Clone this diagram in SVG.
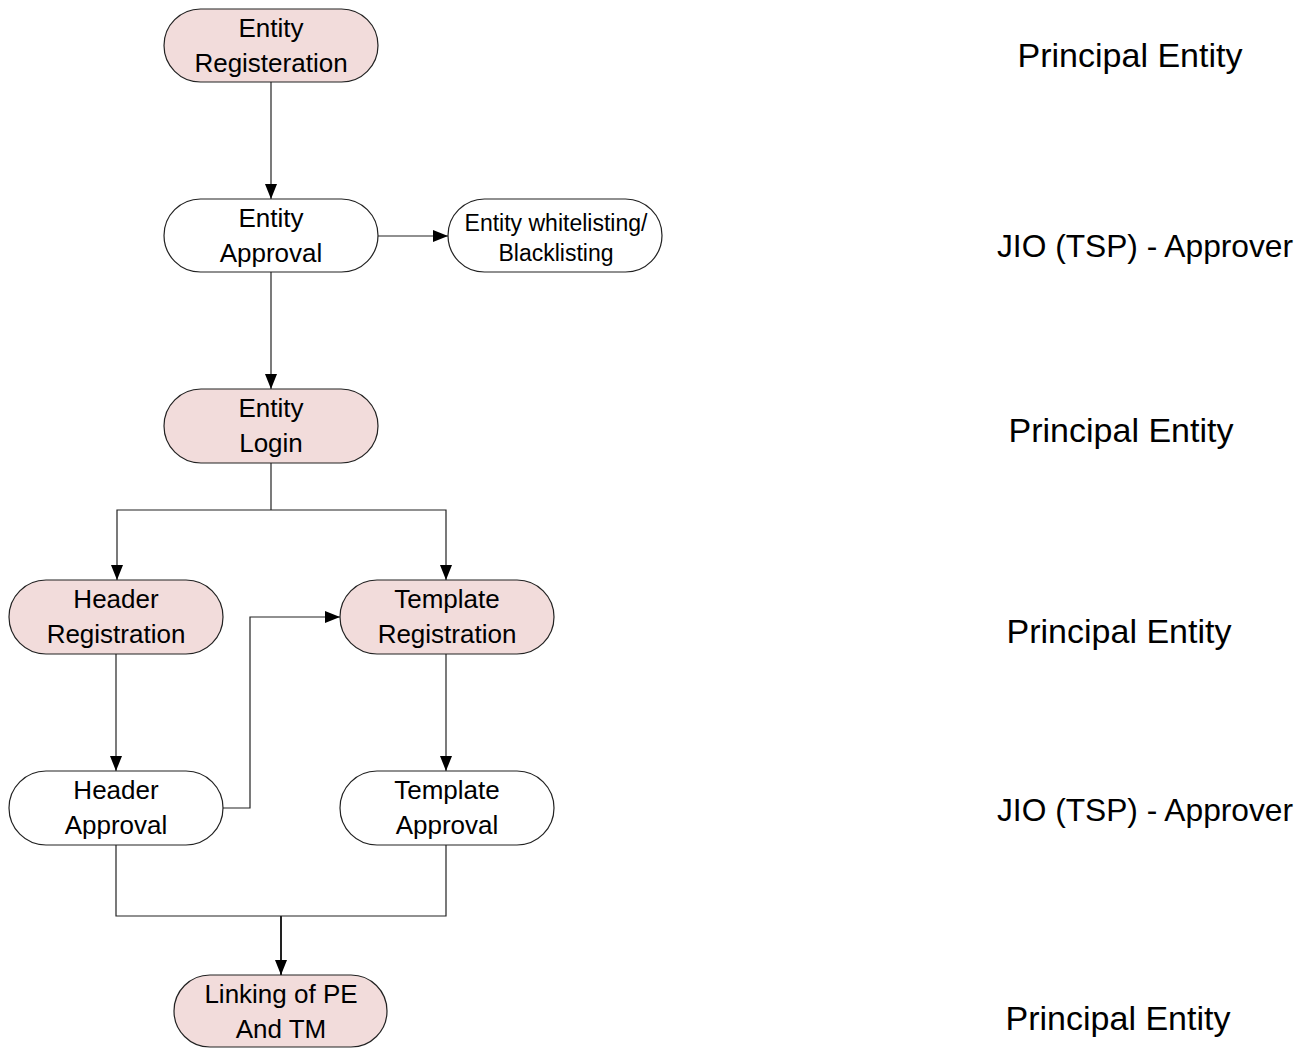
<svg xmlns="http://www.w3.org/2000/svg" width="1312" height="1048" viewBox="0 0 1312 1048">
<defs>
<marker id="arr" viewBox="0 0 15 12" refX="15" refY="6" markerWidth="15" markerHeight="12" markerUnits="userSpaceOnUse" orient="auto">
<path d="M0,0 L15,6 L0,12 Z" fill="#000"/>
</marker>
<style>
.n rect{stroke:#222;stroke-width:1.2}
.pe rect{fill:#F2DCDB}
.ap rect{fill:#fff}
text{font-family:"Liberation Sans",Arial,sans-serif;fill:#000;text-anchor:middle}
.t{font-size:26px}
.s{font-size:23px}
.r{font-size:34px}
.j{font-size:32px}
.c{fill:none;stroke:#222;stroke-width:1.2}
</style>
</defs>
<rect width="1312" height="1048" fill="#fff"/>
<g id="connectors">
<path class="c" d="M271,82 V199" marker-end="url(#arr)"/>
<path class="c" d="M378,236 H448" marker-end="url(#arr)"/>
<path class="c" d="M271,272 V389" marker-end="url(#arr)"/>
<path class="c" d="M271,463 V510"/>
<path class="c" d="M271,510 H117 V580" marker-end="url(#arr)"/>
<path class="c" d="M271,510 H446 V580" marker-end="url(#arr)"/>
<path class="c" d="M116,654 V771" marker-end="url(#arr)"/>
<path class="c" d="M446,654 V771" marker-end="url(#arr)"/>
<path class="c" d="M222,808 H250 V617 H340" marker-end="url(#arr)"/>
<path class="c" d="M116,845 V916 H446 V845"/>
<path class="c" d="M281,916 V975" style="stroke-width:2" marker-end="url(#arr)"/>
</g>
<g id="entity-registration" class="n pe">
<rect x="164" y="9" width="214" height="73" rx="36.5"/>
<text class="t" x="271" y="37">Entity</text>
<text class="t" x="271" y="72">Registeration</text>
</g>
<g id="entity-approval" class="n ap">
<rect x="164" y="199" width="214" height="73" rx="36.5"/>
<text class="t" x="271" y="227">Entity</text>
<text class="t" x="271" y="262">Approval</text>
</g>
<g id="entity-whitelisting" class="n ap">
<rect x="448" y="199" width="214" height="73" rx="36.5"/>
<text class="s" x="556" y="231">Entity whitelisting/</text>
<text class="s" x="556" y="261">Blacklisting</text>
</g>
<g id="entity-login" class="n pe">
<rect x="164" y="389" width="214" height="74" rx="37"/>
<text class="t" x="271" y="417">Entity</text>
<text class="t" x="271" y="452">Login</text>
</g>
<g id="header-registration" class="n pe">
<rect x="9" y="580" width="214" height="74" rx="37"/>
<text class="t" x="116" y="608">Header</text>
<text class="t" x="116" y="643">Registration</text>
</g>
<g id="template-registration" class="n pe">
<rect x="340" y="580" width="214" height="74" rx="37"/>
<text class="t" x="447" y="608">Template</text>
<text class="t" x="447" y="643">Registration</text>
</g>
<g id="header-approval" class="n ap">
<rect x="9" y="771" width="214" height="74" rx="37"/>
<text class="t" x="116" y="799">Header</text>
<text class="t" x="116" y="834">Approval</text>
</g>
<g id="template-approval" class="n ap">
<rect x="340" y="771" width="214" height="74" rx="37"/>
<text class="t" x="447" y="799">Template</text>
<text class="t" x="447" y="834">Approval</text>
</g>
<g id="linking" class="n pe">
<rect x="174" y="975" width="213" height="72" rx="36"/>
<text class="t" x="281" y="1003">Linking of PE</text>
<text class="t" x="281" y="1038">And TM</text>
</g>
<g id="roles">
<text class="r" x="1130" y="67">Principal Entity</text>
<text class="j" x="1145" y="257" textLength="296" lengthAdjust="spacingAndGlyphs">JIO (TSP) - Approver</text>
<text class="r" x="1121" y="442">Principal Entity</text>
<text class="r" x="1119" y="643">Principal Entity</text>
<text class="j" x="1145" y="821" textLength="296" lengthAdjust="spacingAndGlyphs">JIO (TSP) - Approver</text>
<text class="r" x="1118" y="1030">Principal Entity</text>
</g>
</svg>
